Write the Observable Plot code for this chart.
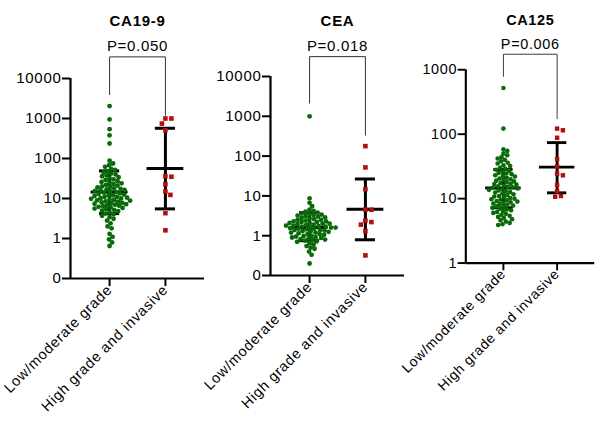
<!DOCTYPE html>
<html><head><meta charset="utf-8">
<script src="https://cdn.jsdelivr.net/npm/d3@7"></script>
<script src="https://cdn.jsdelivr.net/npm/@observablehq/plot@0.6"></script>
<style>
html,body{margin:0;padding:0;background:#fff;overflow:hidden}
#wrap{position:relative;width:600px;height:423px;overflow:hidden;background:#fff}
.panel{position:absolute;top:0}
.panel svg text{letter-spacing:0.7px}
.panel svg [aria-label="x-axis tick label"]{font-size:14.5px;letter-spacing:0.3px}
.panel svg [aria-label="y-axis tick"], .panel svg [aria-label="x-axis tick"]{stroke-width:2}
.panel svg [aria-label="y-axis"] line, .panel svg [aria-label="x-axis"] line{stroke-width:2}
</style></head><body><div id="wrap"></div>
<script>
// ---------- data ----------
const groups = ["Low/moderate grade", "High grade and invasive"];
const titles = ["CA19-9", "CEA", "CA125"];
const pLabels = ["P=0.050", "P=0.018", "P=0.006"];

const ca199Low = [2040, 950, 540, 380, 237,
  88, 75, 68, 62,
  55, 52, 48, 45, 42, 40,
  38, 36, 34, 32, 30, 29, 27, 26, 25,
  24, 23, 22, 21, 20, 19.5, 19, 18, 17.5, 17, 16.5, 16, 15.5, 15,
  14.5, 14, 13.5, 13, 12.5, 12, 12, 11.5, 11, 11, 10.5, 10.2, 10,
  9.8, 9.5, 9.2, 9, 8.8, 8.5, 8.3, 8, 7.8, 7.6, 7.4, 7.2, 7,
  6.8, 6.6, 6.4, 6.2, 6, 5.8, 5.6, 5.4, 5.2, 5,
  4.8, 4.5, 4.2, 4, 3.7, 3.4, 3.1,
  2.8, 2.4, 2.0, 1.8, 1.3, 1.1, 0.95, 0.8, 0.65];
const ca199High = [1000, 1000, 745, 507, 35, 36, 22.8, 15, 12.3, 4.3, 1.6];

const ceaLow = [1000,
  8.7, 6.7, 5.5,
  4.5, 4.2, 4, 3.8, 3.6, 3.5, 3.4, 3.3, 3.2, 3.1, 3,
  2.9, 2.8, 2.7, 2.6, 2.5, 2.5, 2.4, 2.3, 2.3, 2.2, 2.2, 2.1, 2.1, 2, 2,
  1.95, 1.9, 1.85, 1.8, 1.8, 1.75, 1.7, 1.7, 1.65, 1.6, 1.6, 1.55, 1.5, 1.5, 1.45,
  1.4, 1.4, 1.35, 1.3, 1.3, 1.25, 1.2, 1.2, 1.15, 1.1, 1.1, 1.05, 1,
  0.98, 0.95, 0.92, 0.9, 0.88, 0.85, 0.82, 0.8, 0.78, 0.75, 0.72, 0.7,
  0.65, 0.6, 0.55, 0.5, 0.47, 0.4, 0.33, 0.2];
const ceaHigh = [178, 52, 14.7, 4.5, 4.5, 2.2, 2.4, 1.9, 1.3, 0.32];

const ca125Low = [520, 122,
  58, 55, 50, 47, 44, 42, 40, 38, 36,
  35, 33, 32, 30, 29, 28, 27, 26, 25, 24.5, 24, 23, 22.5, 22, 21, 20.5, 20,
  19.5, 19, 18.5, 18, 17.5, 17, 16.8, 16.5, 16, 15.5, 15.2, 15, 14.7, 14.4, 14,
  13.7, 13.4, 13, 12.7, 12.4, 12, 11.7, 11.4, 11, 10.8, 10.5, 10.2, 10,
  9.8, 9.6, 9.4, 9.2, 9, 8.8, 8.6, 8.4, 8.2, 8, 7.8, 7.6, 7.4, 7.2, 7,
  6.8, 6.6, 6.4, 6.2, 6,
  5.8, 5.6, 5.4, 5.2, 5, 4.8, 4.6, 4.4, 4.2, 4, 3.9];
const ca125High = [115, 122, 88, 41, 31.4, 23, 24.4, 16.3, 13, 11, 10.7];

// summary lines: [centre, lower, upper] for each group
const ca199Summary = [[14.5, 4.2, 49], [56, 5.5, 570]];
const ceaSummary = [[1.6, 0.75, 3.8], [4.6, 0.79, 26.6]];
const ca125Summary = [[14.6, 7.2, 28.3], [30.8, 12.3, 74]];

// significance brackets: [left leg bottom, top, right leg bottom]
const ca199Bracket = [3970, 34700, 1200];
const ceaBracket = [2140, 31600, 335];
const ca125Bracket = [790, 1740, 174];

// y axis ticks and labels
const logTicksWide = [0.1, 1, 10, 100, 1000, 10000];
const logLabelsWide = ["0", "1", "10", "100", "1000", "10000"];
const logTicksNarrow = [1, 10, 100, 1000];
const logLabelsNarrow = ["1", "10", "100", "1000"];

// ---------- drawing ----------
const green = "#0a6a0a";
const red = "#b80d0d";
const xDomain = [0.3, 2.7];

const panels = [
  {left: 0, top: 78, bottom: 278, domain: [0.1, 10000], ticks: logTicksWide, labels: logLabelsWide,
   low: ca199Low, high: ca199High, summary: ca199Summary, bracket: ca199Bracket},
  {left: 200, top: 76, bottom: 275, domain: [0.1, 10000], ticks: logTicksWide, labels: logLabelsWide,
   low: ceaLow, high: ceaHigh, summary: ceaSummary, bracket: ceaBracket},
  {left: 398, top: 72, bottom: 273, domain: [1, 1000], ticks: logTicksNarrow, labels: logLabelsNarrow,
   low: ca125Low, high: ca125High, summary: ca125Summary, bracket: ca125Bracket}
];

function swarm(ys, d) {
  const order = ys.map((y, i) => i).sort((a, b) => ys[a] - ys[b]);
  const placed = [];
  const off = new Array(ys.length).fill(0);
  for (const i of order) {
    const y = ys[i];
    for (let k = 0; k < 400; k++) {
      const cand = (k % 2 === 1 ? 1 : -1) * Math.ceil(k / 2) * 0.5;
      if (placed.every(p => (p.x - cand) ** 2 + (p.y - y) ** 2 >= d * d)) { off[i] = cand; break; }
    }
    placed.push({x: off[i], y});
  }
  return off;
}

const W = 210, ML = 70, MR = 6, H = 423;
panels.forEach((cfg, pi) => {
  const ys = d3.scaleLog().domain(cfg.domain).range([cfg.bottom, cfg.top]);
  const pxPerUnit = (W - ML - MR) / (xDomain[1] - xDomain[0]);
  const lowOff = swarm(cfg.low.map(v => ys(v)), 4.1);
  const highOff = swarm(cfg.high.map(v => ys(v)), 6);
  const lowPts = cfg.low.map((v, k) => ({x: 1 + lowOff[k] / pxPerUnit, v}));
  const highPts = cfg.high.map((v, k) => ({x: 2 + highOff[k] / pxPerUnit, v}));
  const summ = cfg.summary.map((s, gi) => ({g: gi + 1, c: s[0], lo: s[1], hi: s[2]}));
  const br = [{x: 1, y: cfg.bracket[0]}, {x: 1, y: cfg.bracket[1]}, {x: 2, y: cfg.bracket[1]}, {x: 2, y: cfg.bracket[2]}];

  const chart = Plot.plot({
    width: W, height: H,
    marginLeft: ML, marginRight: MR, marginTop: cfg.top, marginBottom: H - cfg.bottom,
    style: {fontFamily: "'Liberation Sans', Arial, sans-serif", fontSize: "15px", color: "#000", background: "transparent", overflow: "visible"},
    x: {type: "linear", domain: xDomain, ticks: [1, 2], tickFormat: d => groups[Math.round(d) - 1],
        tickRotate: -45, tickSize: 8, tickPadding: 1, label: null},
    y: {type: "log", domain: cfg.domain, ticks: cfg.ticks, tickFormat: d => cfg.labels[cfg.ticks.indexOf(d)],
        tickSize: 8, tickPadding: 1, label: null},
    marks: [
      Plot.ruleX([xDomain[0]], {stroke: "#000", strokeWidth: 2.2}),
      Plot.ruleY([cfg.domain[0]], {stroke: "#000", strokeWidth: 2.2}),
      Plot.line(br, {x: "x", y: "y", stroke: "#333", strokeWidth: 1}),
      Plot.ruleX(summ, {x: "g", y1: "lo", y2: "hi", stroke: "#000", strokeWidth: 3}),
      Plot.ruleY(summ, {y: "c", x1: d => d.g - 0.33, x2: d => d.g + 0.33, stroke: "#000", strokeWidth: 3}),
      Plot.ruleY(summ, {y: "lo", x1: d => d.g - 0.18, x2: d => d.g + 0.18, stroke: "#000", strokeWidth: 3}),
      Plot.ruleY(summ, {y: "hi", x1: d => d.g - 0.18, x2: d => d.g + 0.18, stroke: "#000", strokeWidth: 3}),
      Plot.dot(lowPts, {x: "x", y: "v", r: 2.4, fill: green, stroke: "none"}),
      Plot.dot(highPts, {x: "x", y: "v", r: 2.6, symbol: "square", fill: red, stroke: "none"}),
      Plot.text([titles[pi]], {x: () => 1.5, text: d => d, frameAnchor: "top", dy: 15 - cfg.top,
        fontSize: 15, fontWeight: "bold"}),
      Plot.text([pLabels[pi]], {x: () => 1.5, text: d => d, frameAnchor: "top", dy: 40 - cfg.top,
        fontSize: 15})
    ]
  });
  const div = document.createElement("div");
  div.className = "panel";
  div.style.left = cfg.left + "px";
  div.appendChild(chart);
  document.getElementById("wrap").appendChild(div);
});
</script></body></html>
